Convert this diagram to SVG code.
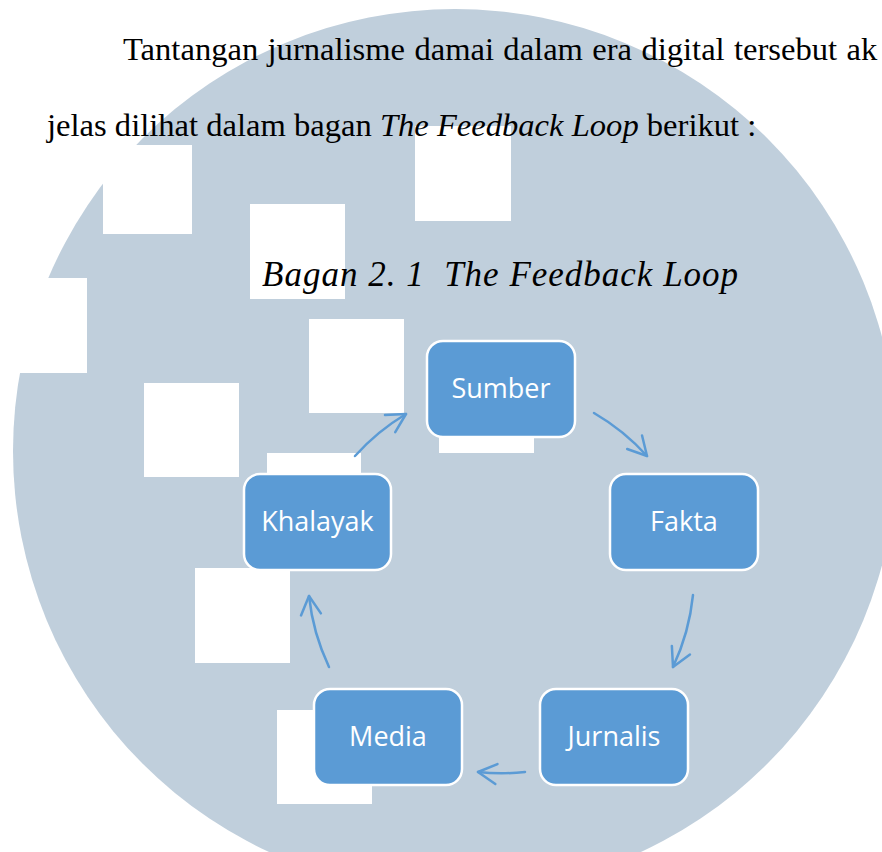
<svg xmlns="http://www.w3.org/2000/svg" width="882" height="852" viewBox="0 0 882 852">
  <style>
    .body { font-family: "Liberation Serif", "Times New Roman", serif; font-size: 32.6px; fill: #000; }
    .title { font-family: "Liberation Serif", "Times New Roman", serif; font-size: 35px; font-style: italic; letter-spacing: 1px; fill: #000; white-space: pre; }
    .patch { fill: #FFFFFF; }
    .box { fill: #5B9BD5; stroke: #FFFFFF; stroke-width: 2.5; }
    .lbl { font-family: "Open Sans", "Noto Sans", sans-serif; font-size: 27px; fill: #FFFFFF; text-anchor: middle; }
    .conn { fill: none; stroke: #5B9BD5; stroke-width: 2.5; stroke-linecap: round; marker-end: url(#arrow); }
  </style>
  <defs>
    <marker id="arrow" markerUnits="userSpaceOnUse" markerWidth="40" markerHeight="40" refX="0" refY="0" orient="auto" overflow="visible">
      <path d="M -18.5 -10 L 0 0 L -18.5 10" fill="none" stroke="#5B9BD5" stroke-width="2.5" stroke-linecap="round" stroke-linejoin="round"/>
    </marker>
  </defs>

  <rect x="0" y="0" width="882" height="852" fill="#FFFFFF"/>

  <g id="background">
    <circle cx="455" cy="451" r="442" fill="#C0CFDC"/>
    <rect class="patch" x="103" y="145" width="89" height="89"/>
    <rect class="patch" x="415" y="126" width="96" height="95"/>
    <rect class="patch" x="250" y="204" width="95" height="95"/>
    <rect class="patch" x="0" y="278" width="87" height="95"/>
    <rect class="patch" x="309" y="319" width="95" height="94"/>
    <rect class="patch" x="144" y="383" width="95" height="94"/>
    <rect class="patch" x="439" y="358" width="95" height="95"/>
    <rect class="patch" x="267" y="453" width="94" height="95"/>
    <rect class="patch" x="195" y="568" width="95" height="95"/>
    <rect class="patch" x="277" y="710" width="95" height="94"/>
  </g>

  <g id="paragraph">
    <text class="body" x="123" y="60" word-spacing="1.2">Tantangan jurnalisme damai dalam era digital tersebut ak</text>
    <text class="body" x="47" y="136">jelas dilihat dalam bagan <tspan font-style="italic">The Feedback Loop</tspan> berikut :</text>
  </g>

  <g id="caption">
    <text class="title" x="262" y="286">Bagan 2. 1  The Feedback Loop</text>
  </g>

  <g id="connectors">
    <path class="conn" d="M 355 456 A 220 220 0 0 1 406 414"/>
    <path class="conn" d="M 594 413 A 220 220 0 0 1 647 456"/>
    <path class="conn" d="M 693 595 A 220 220 0 0 1 673 667"/>
    <path class="conn" d="M 525 772 A 220 220 0 0 1 478 772"/>
    <path class="conn" d="M 329 667 A 220 220 0 0 1 309 596"/>
  </g>

  <g id="node-sumber">
    <rect class="box" x="427" y="341" width="148" height="96" rx="16"/>
    <text class="lbl" x="501" y="398">Sumber</text>
  </g>
  <g id="node-fakta">
    <rect class="box" x="610" y="474" width="148" height="96" rx="16"/>
    <text class="lbl" x="684" y="531">Fakta</text>
  </g>
  <g id="node-jurnalis">
    <rect class="box" x="540" y="689" width="148" height="96" rx="16"/>
    <text class="lbl" x="614" y="746">Jurnalis</text>
  </g>
  <g id="node-media">
    <rect class="box" x="314" y="689" width="148" height="96" rx="16"/>
    <text class="lbl" x="388" y="746">Media</text>
  </g>
  <g id="node-khalayak">
    <rect class="box" x="244" y="474" width="147" height="96" rx="16"/>
    <text class="lbl" x="317.5" y="531">Khalayak</text>
  </g>
</svg>
